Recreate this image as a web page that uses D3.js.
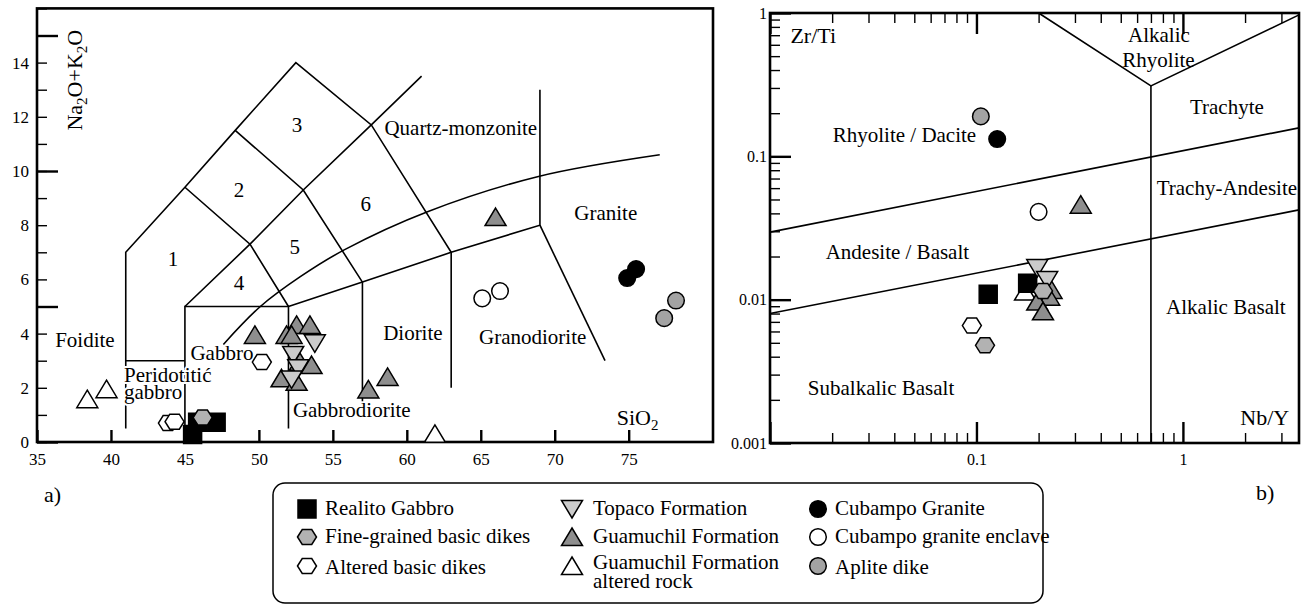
<!DOCTYPE html>
<html>
<head>
<meta charset="utf-8">
<script src="https://cdn.jsdelivr.net/npm/d3@7"></script>
<style>
body { margin: 0; background: #fff; }
svg text { font-family: "Liberation Serif", "Times New Roman", serif; fill: #000; }
</style>
</head>
<body>
<div id="container"></div>
<script>
"use strict";

const width = 1309;
const height = 605;

// ---------- panel a) TAS diagram (SiO2 vs Na2O+K2O) ----------
const tasXTicks = [35, 40, 45, 50, 55, 60, 65, 70, 75];
const tasYLabels = [0, 2, 4, 6, 8, 10, 12, 14];
const tasYMajor = [0, 5, 10, 15];
const tasYMinor = [0, 1, 2, 3, 4, 5, 6, 7, 8, 9, 10, 11, 12, 13, 14, 15, 16];

// field boundaries (SiO2, Na2O+K2O)
const tasBoundaries = [
    [[41, 0.5], [41, 7], [45, 9.4], [48.4, 11.5], [52.5, 14], [57.6, 11.7], [63, 7], [63, 2]],
    [[41, 3], [45, 3]],
    [[45, 0.5], [45, 5], [52, 5], [52, 0.5]],
    [[45, 5], [49.4, 7.3], [53, 9.3], [57.6, 11.7], [61, 13.5]],
    [[45, 9.4], [49.4, 7.3], [52, 5]],
    [[48.4, 11.5], [53, 9.3], [57, 5.9], [57, 1.5]],
    [[52, 5], [57, 5.9], [63, 7], [69, 8], [69, 13]],
    [[69, 8], [73.4, 3]]
];
// alkaline / subalkaline divide
const tasCurve = [[47.6, 3.6], [50.1, 5.0], [52.8, 6.1], [55.8, 7.1], [61.4, 8.5], [68.9, 9.8], [77.1, 10.6]];

const tasFieldNames = ["1", "2", "3", "4", "5", "6", "Quartz-monzonite", "Granite", "Diorite",
    "Granodiorite", "Gabbrodiorite", "Foidite", "Gabbro"];
const tasFieldX = [44.2, 48.65, 52.57, 48.65, 52.43, 57.23, 63.65, 73.45, 60.41, 68.51, 56.28, 38.24, 47.5];
const tasFieldY = [6.75, 9.3, 11.7, 5.87, 7.2, 8.78, 11.59, 8.45, 4.02, 3.87, 1.18, 3.76, 3.28];

// ---------- panel b) Zr/Ti vs Nb/Y ----------
const wfXMajor = [0.01, 0.1, 1];
const wfXMinor = [0.02, 0.03, 0.04, 0.05, 0.06, 0.07, 0.08, 0.09, 0.2, 0.3, 0.4, 0.5, 0.6, 0.7, 0.8, 0.9, 2, 3];
const wfXLabels = [0.1, 1];
const wfYMajor = [0.001, 0.01, 0.1, 1];
const wfYMinor = [0.002, 0.003, 0.004, 0.005, 0.006, 0.007, 0.008, 0.009,
    0.02, 0.03, 0.04, 0.05, 0.06, 0.07, 0.08, 0.09,
    0.2, 0.3, 0.4, 0.5, 0.6, 0.7, 0.8, 0.9];

const wfBoundaries = [
    [[0.01, 0.0296], [3.65, 0.158]],
    [[0.01, 0.0080], [3.65, 0.0423]],
    [[0.2, 1], [0.7, 0.31], [3.65, 0.97]],
    [[0.7, 0.31], [0.7, 0.001]]
];

const wfFieldNames = ["Alkalic", "Rhyolite", "Trachyte", "Rhyolite / Dacite", "Trachy-Andesite",
    "Andesite / Basalt", "Subalkalic Basalt", "Alkalic Basalt"];
const wfFieldX = [0.765, 0.762, 1.633, 0.0448, 1.633, 0.0414, 0.0345, 1.615];
const wfFieldY = [0.702, 0.47, 0.221, 0.141, 0.0601, 0.0215, 0.00242, 0.00889];

// ---------- sample groups ----------
const groupNames = ["Realito Gabbro", "Fine-grained basic dikes", "Altered basic dikes",
    "Topaco Formation", "Guamuchil Formation", "Guamuchil Formation\naltered rock",
    "Cubampo Granite", "Cubampo granite enclave", "Aplite dike"];

// SiO2, Na2O+K2O
const tasRealito = [[45.86, 0.73], [47.11, 0.73], [45.52, 0.28]];
const tasFineDikes = [[46.2, 0.9]];
const tasAlteredDikes = [[43.85, 0.7], [44.3, 0.75], [50.2, 2.95]];
const tasTopaco = [[52.32, 3.21], [53.78, 3.64], [52.66, 2.72], [52.21, 2.31]];
const tasGuamuchil = [[49.73, 3.95], [52.55, 4.32], [53.45, 4.32], [51.87, 3.95], [52.21, 3.95],
    [52.77, 2.96], [53.56, 2.84], [51.53, 2.35], [52.55, 2.22], [57.4, 1.94], [58.7, 2.4], [66.0, 8.3]];
const tasGuamuchilAlt = [[38.4, 1.58], [39.7, 1.95], [61.9, 0.3]];
const tasCubampo = [[74.9, 6.05], [75.5, 6.38]];
const tasEnclave = [[65.1, 5.3], [66.3, 5.57]];
const tasAplite = [[77.4, 4.57], [78.2, 5.22]];

// Nb/Y, Zr/Ti
const wfRealito = [[0.114, 0.0109], [0.177, 0.013]];
const wfFineDikes = [[0.11, 0.0048], [0.21, 0.0115]];
const wfAlteredDikes = [[0.095, 0.0066]];
const wfTopaco = [[0.197, 0.0166], [0.22, 0.0137]];
const wfGuamuchil = [[0.231, 0.0117], [0.225, 0.0105], [0.197, 0.0097], [0.21, 0.0083], [0.32, 0.046]];
const wfGuamuchilAlt = [[0.172, 0.0114]];
const wfCubampo = [[0.126, 0.132]];
const wfEnclave = [[0.2, 0.041]];
const wfAplite = [[0.105, 0.19]];

const tasSeries = [tasRealito, tasFineDikes, tasAlteredDikes, tasTopaco, tasGuamuchil,
    tasGuamuchilAlt, tasCubampo, tasEnclave, tasAplite];
const wfSeries = [wfRealito, wfFineDikes, wfAlteredDikes, wfTopaco, wfGuamuchil,
    wfGuamuchilAlt, wfCubampo, wfEnclave, wfAplite];

// marker look of each group
const markerStyles = [
    { shape: "square", fill: "#000" },
    { shape: "hexagon", fill: "#b2b2b2" },
    { shape: "hexagon", fill: "#fff" },
    { shape: "triDown", fill: "#cbcbcb" },
    { shape: "triUp", fill: "#8e8e8e" },
    { shape: "triUp", fill: "#fff" },
    { shape: "circle", fill: "#000" },
    { shape: "circle", fill: "#fff" },
    { shape: "circle", fill: "#a3a3a3" }
];
// order in which groups are painted (later ones on top)
const drawOrder = [5, 0, 4, 3, 1, 2, 6, 7, 8];

let svg;

function initialize() {
    svg = d3.select("#container").append("svg")
        .attr("width", width)
        .attr("height", height);
    drawTAS();
    drawWinchester();
    drawLegend();
}

// outline of a marker, centred on 0,0
function markerPath(shape) {
    const p = d3.path();
    if (shape === "square") {
        p.rect(-9, -9, 18, 18);
    } else if (shape === "circle") {
        p.arc(0, 0, 8.3, 0, 2 * Math.PI);
    } else if (shape === "triUp") {
        p.moveTo(0, -9); p.lineTo(10.5, 8.5); p.lineTo(-10.5, 8.5); p.closePath();
    } else if (shape === "triDown") {
        p.moveTo(0, 9); p.lineTo(10.5, -8.5); p.lineTo(-10.5, -8.5); p.closePath();
    } else if (shape === "hexagon") {
        const w = 19, h = 15;
        p.moveTo(-w / 2, 0); p.lineTo(-w / 4, -h / 2); p.lineTo(w / 4, -h / 2);
        p.lineTo(w / 2, 0); p.lineTo(w / 4, h / 2); p.lineTo(-w / 4, h / 2); p.closePath();
    }
    return p.toString();
}

function drawPoints(g, series, x, y) {
    drawOrder.forEach(i => {
        const st = markerStyles[i];
        g.append("g").selectAll("path")
            .data(series[i])
            .enter()
            .append("path")
            .attr("transform", d => "translate(" + x(d[0]) + "," + y(d[1]) + ")")
            .attr("d", markerPath(st.shape))
            .style("fill", st.fill)
            .style("stroke", "#000")
            .style("stroke-width", 1.5);
    });
}

// apply text style to a d3 axis group and drop its domain line
function styleAxis(sel, size, major) {
    sel.select(".domain").remove();
    sel.attr("font-family", null).attr("font-size", null);
    sel.selectAll("line").style("stroke", "#000").style("stroke-width", major ? 2.4 : 1.4);
    sel.selectAll("text").style("font-size", size + "px");
}

function drawTAS() {
    const g = svg.append("g");
    const x = d3.scaleLinear().domain([35, 80.7]).range([37, 713]);
    const y = d3.scaleLinear().domain([0, 16]).range([442, 8.4]);
    const line = d3.line().x(d => x(d[0])).y(d => y(d[1]));
    const curve = d3.line().x(d => x(d[0])).y(d => y(d[1])).curve(d3.curveCatmullRom);

    g.selectAll(".bnd")
        .data(tasBoundaries)
        .enter()
        .append("path")
        .attr("class", "bnd")
        .attr("d", line)
        .style("fill", "none")
        .style("stroke", "#000")
        .style("stroke-width", 1.6);
    g.append("path")
        .datum(tasCurve)
        .attr("d", curve)
        .style("fill", "none")
        .style("stroke", "#000")
        .style("stroke-width", 1.6);

    // axes: ticks point inward
    const x0 = x.range()[0], y0 = y.range()[0];
    g.append("g").attr("transform", "translate(" + x0 + ",0)")
        .call(d3.axisLeft(y).tickValues(tasYMinor).tickSize(-10).tickFormat(""))
        .call(s => styleAxis(s, 17, false));
    g.append("g").attr("transform", "translate(" + x0 + ",0)")
        .call(d3.axisLeft(y).tickValues(tasYMajor).tickSize(-21).tickFormat(""))
        .call(s => styleAxis(s, 17, true));
    g.append("g").attr("transform", "translate(" + x0 + ",0)")
        .call(d3.axisLeft(y).tickValues(tasYLabels).tickSize(0).tickPadding(8))
        .call(s => styleAxis(s, 17, false));
    g.append("g").attr("transform", "translate(0," + y0 + ")")
        .call(d3.axisBottom(x).tickValues(tasXTicks).tickSize(-12).tickPadding(11))
        .call(s => styleAxis(s, 17, true));

    // frame
    g.append("rect")
        .attr("x", x0).attr("y", y.range()[1])
        .attr("width", x.range()[1] - x0).attr("height", y0 - y.range()[1])
        .style("fill", "none").style("stroke", "#000").style("stroke-width", 2.6);

    // field names
    g.selectAll(".field")
        .data(tasFieldNames)
        .enter()
        .append("text")
        .attr("class", "field")
        .attr("x", (d, i) => x(tasFieldX[i]))
        .attr("y", (d, i) => y(tasFieldY[i]))
        .attr("dy", "0.35em")
        .attr("text-anchor", "middle")
        .style("font-size", "21px")
        .text(d => d);

    // two-line label, written over the boundary lines
    const pg = g.append("text")
        .attr("x", x(40.88)).attr("y", y(2.5)).attr("dy", "0.35em")
        .style("font-size", "21px")
        .style("stroke", "#fff").style("stroke-width", 4).style("paint-order", "stroke");
    pg.append("tspan").text("Peridotitić");
    pg.append("tspan").attr("x", x(40.88)).attr("dy", "0.82em").text("gabbro");

    // axis names with subscripts
    const sx = g.append("text")
        .attr("x", x(74.19)).attr("y", y(0.91)).attr("dy", "0.35em")
        .style("font-size", "22px");
    sx.append("tspan").text("SiO");
    sx.append("tspan").attr("dy", 5).style("font-size", "15px").text("2");

    const sy = g.append("text")
        .attr("transform", "translate(82," + y(13.35) + ") rotate(-90)")
        .attr("text-anchor", "middle")
        .style("font-size", "22px");
    sy.append("tspan").text("Na");
    sy.append("tspan").attr("dy", 5).style("font-size", "15px").text("2");
    sy.append("tspan").attr("dy", -5).text("O+K");
    sy.append("tspan").attr("dy", 5).style("font-size", "15px").text("2");
    sy.append("tspan").attr("dy", -5).text("O");

    drawPoints(g, tasSeries, x, y);

    svg.append("text").attr("x", 44).attr("y", 502).style("font-size", "22px").text("a)");
}

function drawWinchester() {
    const g = svg.append("g");
    const x = d3.scaleLog().domain([0.01, 3.65]).range([770, 1299]);
    const y = d3.scaleLog().domain([0.001, 1]).range([443, 13]);
    const line = d3.line().x(d => x(d[0])).y(d => y(d[1]));

    g.selectAll(".bnd")
        .data(wfBoundaries)
        .enter()
        .append("path")
        .attr("class", "bnd")
        .attr("d", line)
        .style("fill", "none")
        .style("stroke", "#000")
        .style("stroke-width", 1.6);

    const x0 = x.range()[0], x1 = x.range()[1], y0 = y.range()[0], y1 = y.range()[1];
    g.append("g").attr("transform", "translate(" + x0 + ",0)")
        .call(d3.axisLeft(y).tickValues(wfYMinor).tickSize(-10).tickFormat(""))
        .call(s => styleAxis(s, 16, false));
    g.append("g").attr("transform", "translate(" + x0 + ",0)")
        .call(d3.axisLeft(y).tickValues(wfYMajor).tickSize(-21).tickPadding(3).tickFormat(d3.format("")))
        .call(s => styleAxis(s, 16, true));
    [[y0, d3.axisBottom], [y1, d3.axisTop]].forEach(([yy, ax]) => {
        g.append("g").attr("transform", "translate(0," + yy + ")")
            .call(ax(x).tickValues(wfXMinor).tickSize(-10).tickFormat(""))
            .call(s => styleAxis(s, 16, false));
        g.append("g").attr("transform", "translate(0," + yy + ")")
            .call(ax(x).tickValues(wfXMajor).tickSize(-21).tickFormat(""))
            .call(s => styleAxis(s, 16, true));
    });
    g.append("g").attr("transform", "translate(0," + y0 + ")")
        .call(d3.axisBottom(x).tickValues(wfXLabels).tickSize(0).tickPadding(11).tickFormat(d3.format("")))
        .call(s => styleAxis(s, 16, false));

    g.append("rect")
        .attr("x", x0).attr("y", y1)
        .attr("width", x1 - x0).attr("height", y0 - y1)
        .style("fill", "none").style("stroke", "#000").style("stroke-width", 2.6);

    g.selectAll(".field")
        .data(wfFieldNames)
        .enter()
        .append("text")
        .attr("class", "field")
        .attr("x", (d, i) => x(wfFieldX[i]))
        .attr("y", (d, i) => y(wfFieldY[i]))
        .attr("dy", "0.35em")
        .attr("text-anchor", "middle")
        .style("font-size", "21px")
        .text(d => d);

    g.append("text").attr("x", x(0.0162)).attr("y", y(0.702)).attr("dy", "0.35em")
        .attr("text-anchor", "middle").style("font-size", "22px").text("Zr/Ti");
    g.append("text").attr("x", x(2.49)).attr("y", y(0.00152)).attr("dy", "0.35em")
        .attr("text-anchor", "middle").style("font-size", "22px").text("Nb/Y");

    drawPoints(g, wfSeries, x, y);

    svg.append("text").attr("x", 1256).attr("y", 500).style("font-size", "22px").text("b)");
}

function drawLegend() {
    const g = svg.append("g");
    g.append("rect")
        .attr("x", 273).attr("y", 483).attr("width", 770).attr("height", 120)
        .attr("rx", 12)
        .style("fill", "#fff").style("stroke", "#000").style("stroke-width", 1.5);

    const colMarker = [307, 572, 818];
    const colText = [325, 593, 835];
    const rowMarker = [509, 537, 566];
    const rowBase = [515, 543, 574];

    groupNames.forEach((name, i) => {
        const c = Math.floor(i / 3), r = i % 3;
        const st = markerStyles[i];
        g.append("path")
            .attr("transform", "translate(" + colMarker[c] + "," + rowMarker[r] + ")")
            .attr("d", markerPath(st.shape))
            .style("fill", st.fill).style("stroke", "#000").style("stroke-width", 1.5);
        const lines = name.split("\n");
        const t = g.append("text")
            .attr("x", colText[c])
            .attr("y", rowBase[r] - (lines.length > 1 ? 5 : 0))
            .style("font-size", "21px");
        lines.forEach((l, k) => {
            t.append("tspan").attr("x", colText[c]).attr("dy", k === 0 ? 0 : 19).text(l);
        });
    });
}

window.onload = initialize;
</script>
</body>
</html>
